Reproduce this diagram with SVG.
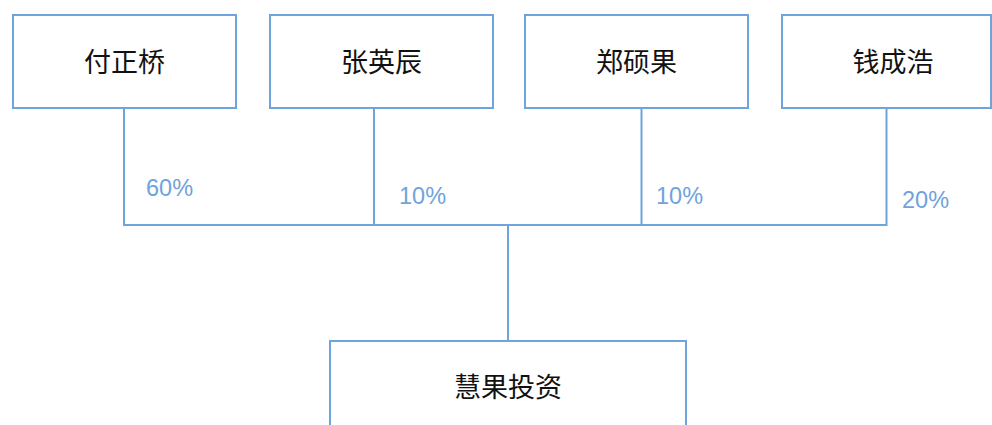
<svg xmlns="http://www.w3.org/2000/svg" width="992" height="425" viewBox="0 0 992 425">
<style>
.box{fill:#fff;stroke:#6fa3dc;stroke-width:2}
.name{font-family:"Noto Sans CJK SC","Liberation Sans",sans-serif;font-size:27px;fill:#111;text-anchor:middle;dominant-baseline:central}
.pct{font-family:"Liberation Sans","Noto Sans",sans-serif;font-size:23.5px;fill:#6fa3dc}
.ln{fill:none;stroke:#6fa3dc;stroke-width:2}
</style>
<rect width="992" height="425" fill="#fff"/>
<g id="connectors">
<polyline class="ln" points="124,108 124,225 886.5,225 886.5,108"/>
<line class="ln" x1="374" y1="108" x2="374" y2="225"/>
<line class="ln" x1="641.5" y1="108" x2="641.5" y2="225"/>
<line class="ln" x1="508" y1="225" x2="508" y2="341"/>
<text class="pct" x="146" y="196">60%</text>
<text class="pct" x="399" y="204">10%</text>
<text class="pct" x="656" y="204">10%</text>
<text class="pct" x="902" y="208">20%</text>
</g>
<g id="n1"><rect class="box" x="13" y="15" width="223" height="93"/><text class="name" x="124.5" y="60">付正桥</text></g>
<g id="n2"><rect class="box" x="270" y="15" width="223" height="93"/><text class="name" x="381.5" y="60">张英辰</text></g>
<g id="n3"><rect class="box" x="525" y="15" width="223" height="93"/><text class="name" x="636.5" y="60">郑硕果</text></g>
<g id="n4"><rect class="box" x="782" y="15" width="209" height="93"/><text class="name" x="893" y="60">钱成浩</text></g>
<g id="n5"><rect class="box" x="330" y="341" width="356" height="100"/><text class="name" x="508" y="385">慧果投资</text></g>
</svg>
